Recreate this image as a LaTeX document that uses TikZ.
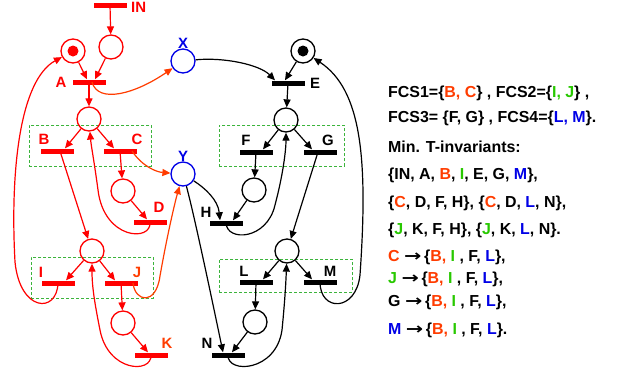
\documentclass[tikz,border=0pt]{standalone}
\usepackage{fontspec}
\setmainfont{Liberation Sans}
\newfontfamily\arrowfont{DejaVu Sans}
\usetikzlibrary{arrows.meta}
\definecolor{pred}{RGB}{255,0,0}
\definecolor{ored}{RGB}{255,60,0}
\definecolor{pblue}{RGB}{0,0,230}
\definecolor{fgreen}{RGB}{40,200,0}
\definecolor{bgreen}{RGB}{60,180,60}
\newcommand{\myarr}{{\arrowfont\bfseries\scalebox{1.3}[1]{→}}}
\begin{document}
\begin{tikzpicture}[x=1bp,y=-1bp,
  place/.style={circle, draw, line width=1.3bp, minimum size=24bp, inner sep=0pt},
  token/.style={circle, fill, minimum size=11bp, inner sep=0pt},
  trans/.style={rectangle, fill, minimum width=33bp, minimum height=5bp, inner sep=0pt},
  arc/.style={line width=1.2bp, -{Triangle[length=8bp,width=7bp]}},
  lbl/.style={font=\fontsize{15}{18}\selectfont\bfseries, inner sep=0pt},
  fcs/.style={draw=bgreen, dash pattern=on 3bp off 2bp, line width=0.9bp},
  txt/.style={anchor=west, font=\fontsize{16}{19}\selectfont\bfseries, inner sep=0pt}]
\useasboundingbox (0,0) rectangle (627,376);
% FCS boxes
\node[fcs, minimum width=122bp, minimum height=41bp, anchor=north west] (box1) at (29,125) {};
\node[fcs, minimum width=122bp, minimum height=41bp, anchor=north west] (box2) at (31,257) {};
\node[fcs, minimum width=125bp, minimum height=41bp, anchor=north west] (box3) at (219,125) {};
\node[fcs, minimum width=133bp, minimum height=33bp, anchor=north west] (box4) at (219,259) {};
% places
\node[place, draw=pred] (pIN) at (111,47) {};
\node[place, draw=pred] (p0) at (73,51) {};
\node[token, fill=pred] (t0) at (73,51) {};
\node[place, draw=pblue] (X) at (183,61) {};
\node[place, draw=pred] (pA) at (89,119) {};
\node[place, draw=pred] (pC) at (123,191) {};
\node[place, draw=pblue] (Y) at (183,174) {};
\node[place, draw=pred] (pB) at (92,251) {};
\node[place, draw=pred] (pJ) at (123,323) {};
\node[place] (pE0) at (303,51) {};
\node[token] (t1) at (303,51) {};
\node[place] (pE) at (286,120) {};
\node[place] (pF) at (254,190) {};
\node[place] (pG) at (287,251) {};
\node[place] (pL) at (255,322) {};
% transitions
\node[trans, fill=pred] (IN) at (110,5) {};
\node[trans, fill=pred] (A) at (89,82) {};
\node[trans, fill=pred] (B) at (57,151) {};
\node[trans, fill=pred] (C) at (120,151) {};
\node[trans, fill=pred] (D) at (150,222) {};
\node[trans, fill=pred] (I) at (58,283) {};
\node[trans, fill=pred] (J) at (121,283) {};
\node[trans, fill=pred] (K) at (151,355) {};
\node[trans] (E) at (288,83) {};
\node[trans] (F) at (256,152) {};
\node[trans] (G) at (320,152) {};
\node[trans] (H) at (226,223) {};
\node[trans] (L) at (256,282) {};
\node[trans] (M) at (320,282) {};
\node[trans] (N) at (228,355) {};
% labels
\node[lbl, text=pred, anchor=west] (lIN) at (131,7) {IN};
\node[lbl, text=pred] (lA) at (61,82) {A};
\node[lbl, text=pblue] (lX) at (183,43) {X};
\node[lbl, text=pred] (lB) at (44,139) {B};
\node[lbl, text=pred] (lC) at (137,139) {C};
\node[lbl, text=pblue] (lY) at (183,156) {Y};
\node[lbl, text=pred] (lD) at (159,207) {D};
\node[lbl, text=pred] (lI) at (41,272) {I};
\node[lbl, text=ored] (lJ) at (137,272) {J};
\node[lbl, text=ored] (lK) at (167,343) {K};
\node[lbl] (lE) at (315,83) {E};
\node[lbl] (lF) at (246,140) {F};
\node[lbl] (lG) at (328,140) {G};
\node[lbl] (lH) at (206,212) {H};
\node[lbl] (lL) at (244,271) {L};
\node[lbl] (lM) at (330,271) {M};
\node[lbl] (lN) at (207,343) {N};
% red arcs
\begin{scope}[pred]
\draw[arc] (IN) -- (pIN);
\draw[arc] (p0) -- ([xshift=-2bp]A.north);
\draw[arc] (pIN) -- ([xshift=6bp]A.north);
\draw[arc] (A) -- (pA);
\draw[arc] (pA) -- ([xshift=8bp]B.north);
\draw[arc] (pA) -- ([xshift=-6bp]C.north);
\draw[arc] (C) -- (pC);
\draw[arc] (pC) -- ([xshift=-3bp]D.north);
\draw[arc] (D.center) .. controls (152,242) and (104,240) .. (98,190) .. controls (94,160) and (91,145) .. (pA);
\draw[arc] ([xshift=3bp]B.center) -- (pB);
\draw[arc] (pB) -- ([xshift=8bp]I.north);
\draw[arc] (pB) -- ([xshift=-6bp]J.north);
\draw[arc] (I.center) .. controls (57,314) and (20,312) .. (15,262) .. controls (10,170) and (20,80) .. (p0);
\draw[arc] (J) -- (pJ);
\draw[arc] (pJ) -- ([xshift=-3bp]K.north);
\draw[arc] (K.center) .. controls (152,374) and (108,372) .. (100,330) .. controls (94,300) and (92,285) .. (pB);
\end{scope}
\begin{scope}[ored]
\draw[arc] ([xshift=3bp]A.center) .. controls (98,104) and (135,94) .. (X);
\draw[arc] ([xshift=12bp]C.center) .. controls (142,166) and (156,172) .. (Y);
\draw[arc] ([xshift=12bp]J.center) .. controls (135,302) and (156,306) .. (160,276) .. controls (167,236) and (175,202) .. (Y);
\end{scope}
% black arcs
\draw[arc] (X) .. controls (225,57) and (260,65) .. ([xshift=-13bp]E.north);
\draw[arc] (pE0) -- ([xshift=-3bp]E.north);
\draw[arc] (E) -- (pE);
\draw[arc] (pE) -- ([xshift=7bp]F.north);
\draw[arc] (pE) -- ([xshift=-8bp]G.north);
\draw[arc] (F) -- (pF);
\draw[arc] (pF) -- ([xshift=7bp]H.north);
\draw[arc] (Y) .. controls (205,188) and (218,200) .. ([xshift=-6bp]H.north);
\draw[arc] (H.center) .. controls (227,242) and (267,240) .. (275,205) .. controls (283,175) and (286,150) .. (pE);
\draw[arc] ([xshift=-2bp]G.center) -- (pG);
\draw[arc] (pG) -- ([xshift=7bp]L.north);
\draw[arc] (pG) -- ([xshift=-8bp]M.north);
\draw[arc] (L) -- (pL);
\draw[arc] (pL) -- ([xshift=4bp]N.north);
\draw[arc] (Y) .. controls (193,210) and (210,290) .. ([xshift=-5bp]N.north);
\draw[arc] (N.center) .. controls (227,374) and (276,372) .. (282,330) .. controls (285,300) and (286,280) .. (pG);
\draw[arc] (M.center) .. controls (320,312) and (356,312) .. (360,275) .. controls (368,160) and (362,90) .. (pE0);
% text
\node[txt] (t1l) at (388,93) {FCS1=\{{\color{ored}B, C}\} , FCS2=\{{\color{fgreen}I, J}\} ,};
\node[txt] (t2l) at (388,118) {FCS3= \{F, G\} , FCS4=\{{\color{pblue}L, M}\}.};
\node[txt] (t3l) at (388,147) {Min. T-invariants:};
\node[txt] (t4l) at (388,175) {\{IN, A, {\color{ored}B}, {\color{fgreen}I}, E, G, {\color{pblue}M}\},};
\node[txt] (t5l) at (388,203) {\{{\color{ored}C}, D, F, H\}, \{{\color{ored}C}, D, {\color{pblue}L}, N\},};
\node[txt] (t6l) at (388,230) {\{{\color{fgreen}J}, K, F, H\}, \{{\color{fgreen}J}, K, {\color{pblue}L}, N\}.};
\node[txt] (t7l) at (388,257) {{\color{ored}C} \myarr\,\{{\color{ored}B,} {\color{fgreen}I} , F, {\color{pblue}L}\},};
\node[txt] (t8l) at (388,279) {{\color{fgreen}J} \myarr\,\{{\color{ored}B,} {\color{fgreen}I} , F, {\color{pblue}L}\},};
\node[txt] (t9l) at (388,302) {G \myarr\,\{{\color{ored}B,} {\color{fgreen}I} , F, {\color{pblue}L}\},};
\node[txt] (t10l) at (388,330) {{\color{pblue}M} \myarr\,\{{\color{ored}B,} {\color{fgreen}I} , F, {\color{pblue}L}\}.};
\end{tikzpicture}
\end{document}
